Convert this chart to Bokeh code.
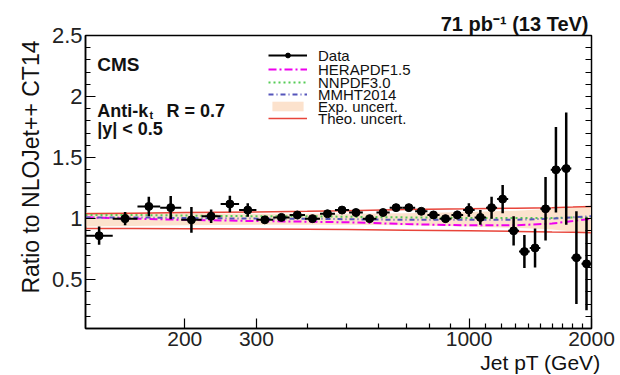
import numpy as np
from bokeh.plotting import figure
from bokeh.models import (FixedTicker, LinearAxis, Label, Legend, LegendItem,
                          PrintfTickFormatter, Range1d, Title)
from bokeh.embed import file_html
from bokeh.resources import INLINE

# ---------------- data ----------------
bin_edges = [114, 133, 153, 174, 196, 220, 245, 272, 300, 330, 362, 395, 430, 468, 507,
             548, 592, 638, 686, 737, 790, 846, 905, 967, 1032, 1101, 1172, 1248, 1327,
             1410, 1497, 1588, 1684, 1784, 1890, 2000]
data_ratio = [0.86, 1.00, 1.10, 1.09, 0.99, 1.02, 1.12, 1.07, 0.99, 1.01, 1.03, 1.00,
              1.04, 1.07, 1.05, 1.00, 1.05, 1.09, 1.09, 1.06, 1.03, 1.00, 1.03, 1.07,
              1.01, 1.09, 1.16, 0.90, 0.73, 0.76, 1.08, 1.40, 1.41, 0.68, 0.63]
data_err = [0.075, 0.055, 0.08, 0.095, 0.105, 0.055, 0.068, 0.055, 0.03, 0.025, 0.025,
            0.025, 0.025, 0.025, 0.025, 0.025, 0.025, 0.025, 0.025, 0.025, 0.03, 0.03,
            0.035, 0.055, 0.06, 0.09, 0.115, 0.12, 0.135, 0.16, 0.26, 0.35, 0.46, 0.38, 0.38]

curve_pt = [114, 150, 200, 300, 400, 500, 700, 1000, 1300, 1600, 1800, 2000]
hera = [1.01, 1.00, 0.99, 0.98, 0.975, 0.97, 0.955, 0.945, 0.945, 0.96, 0.98, 1.00]
nnpdf = [1.03, 1.03, 1.025, 1.02, 1.02, 1.015, 1.01, 1.005, 1.005, 1.005, 1.01, 1.01]
mmht = [1.01, 1.01, 1.005, 1.0, 1.0, 0.995, 0.99, 0.99, 0.99, 1.0, 1.01, 1.02]
theo_hi = [1.04, 1.045, 1.05, 1.055, 1.06, 1.065, 1.075, 1.08, 1.085, 1.09, 1.095, 1.10]
theo_lo = [0.92, 0.92, 0.918, 0.915, 0.913, 0.91, 0.905, 0.90, 0.895, 0.89, 0.888, 0.885]
exp_hi = [1.055, 1.05, 1.045, 1.04, 1.04, 1.04, 1.045, 1.055, 1.065, 1.08, 1.09, 1.10]
exp_lo = [0.935, 0.94, 0.945, 0.95, 0.95, 0.95, 0.945, 0.935, 0.925, 0.91, 0.895, 0.88]

legend_labels = ["Data", "HERAPDF1.5", "NNPDF3.0", "MMHT2014", "Exp. uncert.", "Theo. uncert."]

y_ticks = [0.5, 1.0, 1.5, 2.0, 2.5]
y_minor = [round(v, 1) for v in np.arange(0.1, 2.51, 0.1)]
x_ticks = [200, 300, 1000, 2000]
x_minor = [400, 500, 600, 700, 800, 900, 1100, 1200, 1300, 1400, 1500, 1600, 1700, 1800, 1900]

# ---------------- derived ----------------
lo = np.array(bin_edges[:-1], dtype=float)
hi = np.array(bin_edges[1:], dtype=float)
xc = np.sqrt(lo * hi)
yv = np.array(data_ratio)
ye = np.array(data_err)

FONT = "Liberation Sans"

p = figure(width=620, height=375, x_axis_type="log",
           x_range=Range1d(114, 2000), y_range=Range1d(0.1, 2.5),
           output_backend="svg", toolbar_location=None,
           min_border_left=85, min_border_right=29, min_border_top=35, min_border_bottom=47)
p.grid.visible = False
p.outline_line_color = "black"
p.outline_line_width = 1.5
p.background_fill_color = "white"
p.border_fill_color = "white"

# top title: luminosity / energy
p.title.text = "71 pb\u207b\u00b9 (13 TeV)"
p.title.align = "right"
p.title.offset = 3
p.title.text_font = FONT
p.title.text_font_size = "20px"
p.title.text_font_style = "bold"
p.title.text_color = "#111111"
p.title.standoff = 1

# axes styling
xa = p.xaxis[0]
xa.ticker = FixedTicker(ticks=x_ticks, minor_ticks=x_minor)
xa.formatter = PrintfTickFormatter(format="%d")
ya = p.yaxis[0]
ya.ticker = FixedTicker(ticks=y_ticks, minor_ticks=y_minor)
for ax, fs in ((xa, "21px"), (ya, "22px")):
    ax.major_tick_in = 10
    ax.major_tick_out = 0
    ax.minor_tick_in = 5
    ax.minor_tick_out = 0
    ax.axis_line_color = "black"
    ax.axis_line_width = 1.5
    ax.major_tick_line_width = 1.2
    ax.minor_tick_line_width = 1.2
    ax.major_label_text_font = FONT
    ax.major_label_text_font_size = fs
    ax.major_label_text_color = "#222222"
    ax.major_label_standoff = 3

# mirror ticks on the right edge
ra = LinearAxis(ticker=FixedTicker(ticks=[], minor_ticks=y_minor))
ra.minor_tick_in = 6
ra.minor_tick_out = 0
ra.major_tick_in = 0
ra.major_tick_out = 0
ra.minor_tick_line_width = 1.2
ra.axis_line_color = "black"
p.add_layout(ra, "right")

# axis titles
p.add_layout(Title(text="Jet pT (GeV)", align="right", offset=-9, text_font=FONT,
                   text_font_size="21px", text_font_style="normal",
                   text_color="#111111", standoff=0), "below")
p.add_layout(Title(text="Ratio to NLOJet++ CT14", align="right", offset=5, text_font=FONT,
                   text_font_size="23px", text_font_style="normal",
                   text_color="#111111", standoff=10), "left")

# ---------------- glyphs ----------------
r_exp = p.varea(x=curve_pt, y1=exp_lo, y2=exp_hi, fill_color="#FCDDC4", fill_alpha=0.85)
r_th1 = p.line(curve_pt, theo_hi, line_color="#E8443A", line_width=1.5)
r_th2 = p.line(curve_pt, theo_lo, line_color="#E8443A", line_width=1.5)
r_hera = p.line(curve_pt, hera, line_color="#EE00EE", line_width=2, line_dash="8 3 2 3")
r_nn = p.line(curve_pt, nnpdf, line_color="#55CC55", line_width=2, line_dash="2 3")
r_mm = p.line(curve_pt, mmht, line_color="#5555BB", line_width=2, line_dash="5 3 1 3")

r_hseg = p.segment(x0=lo, y0=yv, x1=hi, y1=yv, line_color="black", line_width=2)
p.segment(x0=xc, y0=yv - ye, x1=xc, y1=yv + ye, line_color="black", line_width=2.5)
r_pts = p.scatter(xc, yv, size=8, color="black")

# legend: one single-row legend per entry, for tight ROOT-like row spacing
legend_renderers = [[r_hseg, r_pts], [r_hera], [r_nn], [r_mm], [r_exp], [r_th1]]
legend_rows_y = [264, 250, 237, 225, 213, 201]
for text, rends, ly in zip(legend_labels, legend_renderers, legend_rows_y):
    lg = Legend(items=[LegendItem(label=text, renderers=rends)], location=(183, ly))
    lg.background_fill_alpha = 0
    lg.border_line_alpha = 0
    lg.padding = 0
    lg.margin = 0
    lg.spacing = 0
    lg.glyph_width = 39
    lg.glyph_height = 12
    lg.label_height = 18
    lg.label_standoff = 11
    lg.label_text_font = FONT
    lg.label_text_font_size = "15px"
    lg.label_text_color = "#111111"
    p.add_layout(lg)

# ---------------- texts inside the frame ----------------
def lab(text, x, y, size, bold=False, align="left", baseline="alphabetic"):
    p.add_layout(Label(x=x, y=y, x_units="screen", y_units="screen", text=text,
                       text_font=FONT, text_font_size=size,
                       text_font_style="bold" if bold else "normal",
                       text_align=align, text_baseline=baseline,
                       text_color="#111111"))

lab("CMS", 11.7, 264, "19px", bold=True)
lab("Anti-k", 11.7, 218, "18px", bold=True)
lab("t", 64, 214, "11px", bold=True)
lab("R = 0.7", 81, 218, "18px", bold=True)
lab("|y| < 0.5", 11.7, 200, "18px", bold=True)

open("out.html", "w").write(file_html(p, INLINE))
